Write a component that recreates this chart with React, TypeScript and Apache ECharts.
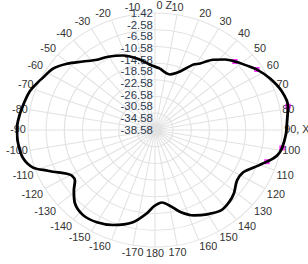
import React, { useEffect, useRef } from "react";
import * as echarts from "echarts";

// Pattern angles (deg, clockwise from top, 0..360) and gain (dB)
const angles = [
  4.3, 14.0, 21.5, 28.2, 32.0, 37.2, 42.5, 47.1, 52.8, 57.2, 64.1, 71.7, 79.0, 87.2,
  91.9, 98.7, 102.9, 107.1, 112.7, 117.7, 123.8, 131.1, 136.7, 142.9, 150.4, 157.2,
  163.8, 169.1, 174.9, 180.7, 185.1, 192.4, 202.1, 210.1, 217.9, 225.1, 231.0, 235.5,
  239.2, 241.7, 246.1, 247.6, 251.5, 257.1, 264.2, 270.5, 274.0, 280.1, 288.6, 294.5,
  296.4, 303.2, 309.3, 315.9, 322.8, 329.5, 338.4, 346.9, 356.0, 364.3,
];
const gainDb = [
  -17.5, -19.0, -17.1, -13.2, -11.8, -8.4, -5.9, -4.2, -2.2, -0.4, 1.7, 3.5, 4.1, 3.0,
  2.7, 1.9, 0.8, -1.7, -5.1, -7.3, -7.5, -5.6, -4.6, -4.1, -5.4, -6.9,
  -9.3, -12.0, -13.7, -12.5, -10.0, -6.3, -3.5, -2.1, -1.7, -3.0, -5.7, -8.0,
  -8.1, -7.1, -3.4, -2.1, 1.9, 4.1, 4.8, 4.9, 4.7, 4.0, 3.0, 1.6,
  1.1, -0.2, -2.8, -6.0, -8.4, -9.5, -11.2, -13.5, -16.2, -17.5,
];
const markerAngles = [47.1, 57.2, 79.0, 98.7, 107.1];
const markerDb = [-4.2, -0.4, 4.1, 1.9, -1.7];

const radialMin = -38.58;
const radialMax = 1.42;
const radialStep = 4;
const dataMax = 5.42; // headroom so the pattern may overshoot the outer ring
const ringCount = 7;
const angleSpecial: Record<number, string> = { 0: "{z|0 Z}", 90: "90, X" };

const CX = 155;
const CY = 130;
const RY = 117;
const RX = 127;
const SX = RX / RY;
const W = 308;
const H = 264;
const FONT = "Arial, 'Liberation Sans', sans-serif";

export default function App() {
  const ref = useRef<HTMLDivElement>(null);
  useEffect(() => {
    const chart = echarts.init(ref.current!, null, { renderer: "svg" });
    const cx = CX / SX;
    const dataR = (RY * (dataMax - radialMin)) / (radialMax - radialMin);
    const hiddenAngle = (i: number) => ({
      polarIndex: i,
      type: "value",
      min: 0,
      max: 360,
      startAngle: 90,
      clockwise: true,
      show: false,
    });
    chart.setOption({
      animation: false,
      polar: [
        { center: [cx, CY], radius: RY },
        { center: [cx, CY], radius: RY },
        { center: [cx, CY], radius: dataR },
      ],
      angleAxis: [
        {
          polarIndex: 0,
          type: "value",
          min: 0,
          max: 360,
          interval: 10,
          startAngle: 90,
          clockwise: true,
          axisLine: { show: false },
          axisTick: { show: false },
          axisLabel: {
            margin: 2,
            fontSize: 10,
            color: "#333",
            fontFamily: FONT,
            rich: { z: { fontSize: 10, color: "#333", fontFamily: FONT, padding: [0, 0, 0, 17] } },
            formatter: (v: number) => {
              if (angleSpecial[v] !== undefined) return angleSpecial[v];
              return String(v > 180 ? v - 360 : v);
            },
          },
          splitLine: { show: true, lineStyle: { color: "#e2e2e2", width: 1 } },
        },
        hiddenAngle(1),
        hiddenAngle(2),
      ],
      radiusAxis: [
        {
          polarIndex: 0,
          type: "value",
          min: 0,
          max: ringCount,
          interval: 1,
          axisLine: { show: false },
          axisTick: { show: false },
          axisLabel: { show: false },
          splitLine: { show: true, lineStyle: { color: "#e2e2e2", width: 1 } },
        },
        {
          polarIndex: 1,
          type: "value",
          min: radialMin,
          max: radialMax,
          interval: radialStep,
          axisLine: { show: false },
          axisTick: { show: false },
          splitLine: { show: false },
          axisLabel: {
            inside: true,
            margin: 2,
            fontSize: 10.5,
            color: "#2e3a50",
            fontFamily: FONT,
            formatter: (v: number) => v.toFixed(2),
          },
        },
        {
          polarIndex: 2,
          type: "value",
          min: radialMin,
          max: dataMax,
          show: false,
        },
      ],
      series: [
        {
          type: "line",
          coordinateSystem: "polar",
          polarIndex: 2,
          data: angles.map((a, i) => [gainDb[i], a]),
          showSymbol: false,
          smooth: 0.3,
          clip: false,
          lineStyle: { color: "#000", width: 2.6 },
        },
        {
          type: "scatter",
          coordinateSystem: "polar",
          polarIndex: 2,
          data: markerAngles.map((a, i) => [markerDb[i], a]),
          symbol: "rect",
          symbolSize: 5,
          clip: false,
          itemStyle: { color: "#ff00ff" },
        },
      ],
    });
    return () => chart.dispose();
  }, []);
  return (
    <div
      style={{ position: "fixed", left: 0, top: 0, width: W, height: H, overflow: "hidden", background: "#fff" }}
    >
      <div
        ref={ref}
        style={{
          width: W / SX,
          height: H,
          transform: `scaleX(${SX})`,
          transformOrigin: "0 0",
        }}
      />
    </div>
  );
}
